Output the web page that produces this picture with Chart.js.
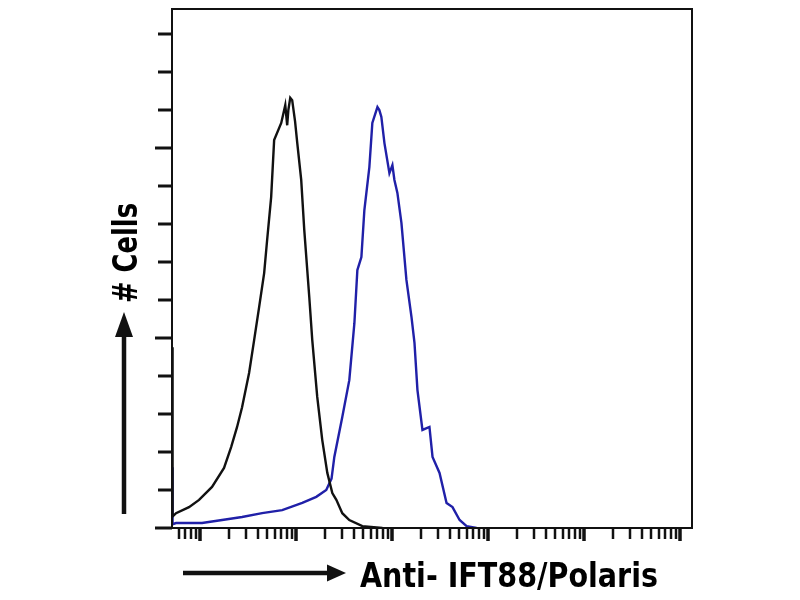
<!DOCTYPE html>
<html>
<head>
<meta charset="utf-8">
<script src="https://cdn.jsdelivr.net/npm/chart.js@4.4.1/dist/chart.umd.min.js"></script>
<style>
  html, body { margin: 0; padding: 0; background: #fff; }
  #wrap { width: 800px; height: 600px; position: relative; }
</style>
</head>
<body>
<div id="wrap"><canvas id="flowChart"></canvas></div>
<script>
// Ось X в десятичных логарифмах интенсивности, ось Y - число клеток
const xMinLog = -0.292;
const xMaxLog = 5.125;
const yMax = 13.66;

const decades = [0, 1, 2, 3, 4, 5];
const yTicks = [0, 1, 2, 3, 4, 5, 6, 7, 8, 9, 10, 11, 12, 13];
const yMajor = [0, 5, 10];

// контроль (черная кривая)
const blackLog = [-0.292, -0.286, -0.25, -0.115, -0.01, 0.125, 0.25, 0.324, 0.386, 0.438, 0.511, 0.564,
  0.616, 0.668, 0.699, 0.741, 0.772, 0.846, 0.888, 0.908, 0.92, 0.94, 0.96, 0.99, 1.013,
  1.054, 1.086, 1.138, 1.169, 1.221, 1.273, 1.326, 1.378, 1.42, 1.482, 1.555, 1.691, 1.9];
const blackCells = [4.76, 0.3, 0.39, 0.55, 0.74, 1.08, 1.58, 2.13, 2.66, 3.18, 4.08, 4.95,
  5.82, 6.71, 7.58, 8.71, 10.21, 10.66, 11.13, 10.6, 11.0, 11.32, 11.26, 10.7, 10.13,
  9.16, 7.84, 6.08, 4.95, 3.45, 2.32, 1.45, 0.92, 0.74, 0.39, 0.21, 0.05, 0];

// Anti-IFT88/Polaris (синяя кривая)
const blueLog = [-0.292, -0.286, -0.25, 0.021, 0.23, 0.438, 0.647, 0.856, 1.065, 1.211, 1.315, 1.37,
  1.399, 1.482, 1.555, 1.608, 1.639, 1.681, 1.712, 1.764, 1.795, 1.848, 1.868, 1.889, 1.921,
  1.973, 2.004, 2.025, 2.056, 2.098, 2.15, 2.203, 2.234, 2.265, 2.317, 2.39, 2.422, 2.495,
  2.568, 2.63, 2.704, 2.777, 2.881];
const blueCells = [1.6, 0.1, 0.13, 0.13, 0.21, 0.29, 0.39, 0.47, 0.66, 0.82, 1.0, 1.3,
  1.87, 2.92, 3.89, 5.39, 6.79, 7.13, 8.37, 9.5, 10.66, 11.08, 11.0, 10.82, 10.13,
  9.34, 9.55, 9.16, 8.82, 8.03, 6.53, 5.55, 4.87, 3.63, 2.58, 2.66, 1.87, 1.45,
  0.66, 0.55, 0.21, 0.05, 0];

function toPoints(logs, cells) {
  return logs.map((v, i) => ({ x: Math.pow(10, v), y: cells[i] }));
}

function fitText(ctx, text, width) {
  const w = ctx.measureText(text).width;
  return width / w;
}

function drawArrow(ctx, x1, y1, x2, y2, head, half) {
  const ang = Math.atan2(y2 - y1, x2 - x1);
  const bx = x2 - head * Math.cos(ang);
  const by = y2 - head * Math.sin(ang);
  ctx.beginPath();
  ctx.moveTo(x1, y1);
  ctx.lineTo(bx, by);
  ctx.stroke();
  ctx.beginPath();
  ctx.moveTo(x2, y2);
  ctx.lineTo(bx + half * Math.sin(ang), by - half * Math.cos(ang));
  ctx.lineTo(bx - half * Math.sin(ang), by + half * Math.cos(ang));
  ctx.closePath();
  ctx.fill();
}

const framePlugin = {
  id: 'frame',
  afterDraw(chart) {
    const ctx = chart.ctx;
    const a = chart.chartArea;
    const xs = chart.scales.x;
    const ys = chart.scales.y;
    ctx.save();
    ctx.strokeStyle = '#111';
    ctx.fillStyle = '#111';
    ctx.lineWidth = 2;
    ctx.strokeRect(a.left, a.top, a.right - a.left, a.bottom - a.top);

    // деления по Y
    ctx.lineWidth = 3;
    yTicks.forEach(t => {
      const py = Math.round(ys.getPixelForValue(t));
      const len = yMajor.includes(t) ? 17 : 14;
      ctx.beginPath();
      ctx.moveTo(a.left - len, py);
      ctx.lineTo(a.left, py);
      ctx.stroke();
    });

    // логарифмические деления по X
    const xTicks = [];
    for (let d = -1; d <= decades[decades.length - 1]; d++) {
      for (let k = 1; k <= 9; k++) {
        const v = d + Math.log10(k);
        if (v < xMinLog || v > xMaxLog) continue;
        xTicks.push({ v: v, major: k === 1 });
      }
    }
    xTicks.forEach(t => {
      const px = Math.round(xs.getPixelForValue(Math.pow(10, t.v)));
      ctx.lineWidth = t.major ? 3.5 : 2.5;
      ctx.beginPath();
      ctx.moveTo(px, a.bottom);
      ctx.lineTo(px, a.bottom + (t.major ? 13 : 11));
      ctx.stroke();
    });

    // подписи осей со стрелками
    ctx.lineWidth = 4.5;
    drawArrow(ctx, 183, 573, 346, 573, 19, 8.5);
    drawArrow(ctx, 124, 514, 124, 312, 25, 9);

    ctx.fillStyle = '#000';
    ctx.font = 'bold 33px "DejaVu Sans Condensed", "DejaVu Sans", "Liberation Sans", sans-serif';
    ctx.textBaseline = 'alphabetic';
    ctx.textAlign = 'left';
    const xLabel = 'Anti- IFT88/Polaris';
    let sx = fitText(ctx, xLabel, 298);
    ctx.save();
    ctx.translate(360, 587);
    ctx.scale(sx, 1);
    ctx.fillText(xLabel, 0, 0);
    ctx.restore();

    const yLabel = '# Cells';
    sx = fitText(ctx, yLabel, 100);
    ctx.save();
    ctx.translate(137, 303);
    ctx.rotate(-Math.PI / 2);
    ctx.scale(sx, 1);
    ctx.fillText(yLabel, 0, 0);
    ctx.restore();

    ctx.restore();
  }
};

document.addEventListener('DOMContentLoaded', function() {
  const ctx = document.getElementById('flowChart').getContext('2d');
  new Chart(ctx, {
    type: 'line',
    data: {
      datasets: [{
        label: 'Control',
        data: toPoints(blackLog, blackCells),
        borderColor: '#111111',
        borderWidth: 2.4,
        pointRadius: 0,
        tension: 0,
        fill: false
      }, {
        label: 'Anti- IFT88/Polaris',
        data: toPoints(blueLog, blueCells),
        borderColor: '#2020a8',
        borderWidth: 2.4,
        pointRadius: 0,
        tension: 0,
        fill: false
      }]
    },
    options: {
      responsive: true,
      maintainAspectRatio: false,
      animation: false,
      layout: { padding: { left: 172, top: 9, right: 108, bottom: 72 } },
      plugins: {
        legend: { display: false },
        tooltip: { enabled: false }
      },
      scales: {
        x: {
          type: 'logarithmic',
          display: false,
          min: Math.pow(10, xMinLog),
          max: Math.pow(10, xMaxLog)
        },
        y: {
          type: 'linear',
          display: false,
          min: 0,
          max: yMax
        }
      }
    },
    plugins: [framePlugin]
  });
});
</script>
</body>
</html>
